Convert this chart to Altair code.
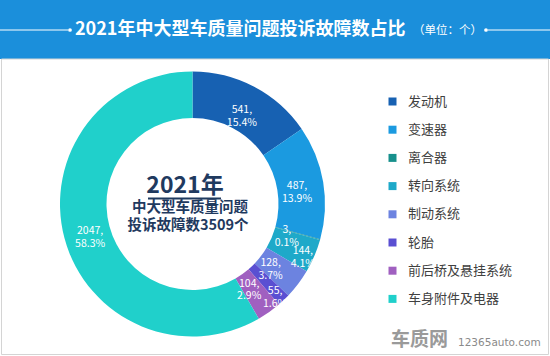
import altair as alt
import pandas as pd

categories = ["发动机", "变速器", "离合器", "转向系统", "制动系统", "轮胎", "前后桥及悬挂系统", "车身附件及电器"]
counts = [541, 487, 3, 144, 128, 55, 104, 2047]
percents = ["15.4%", "13.9%", "0.1%", "4.1%", "3.7%", "1.6%", "2.9%", "58.3%"]
colors = ["#1761b2", "#1b9ae0", "#17908c", "#1ea9c9", "#6c83e0", "#5a4fd2", "#a060c0", "#20d0cb"]
title_main = "2021年中大型车质量问题投诉故障数占比"
title_unit = "（单位：个）"
center_year = "2021年"
center_line2 = "中大型车质量问题"
center_line3 = "投诉故障数3509个"
watermark_cn = "车质网"
watermark_en = "12365auto.com"

df = pd.DataFrame({"cat": categories, "value": counts, "pct": percents, "idx": list(range(len(categories)))})
df["label"] = df["value"].astype(str) + ",\n" + df["pct"]

W, H = 550, 356
CX, CY = 192.5, 204
FONT = "Noto Sans CJK SC"
HEAD = "#1b8fdb"
one = pd.DataFrame({"k": [0]})
base1 = alt.Chart(one)

header = base1.mark_rect(color=HEAD).encode(
    x=alt.value(0), x2=alt.value(W), y=alt.value(0), y2=alt.value(59))
border = base1.mark_rect(filled=False, stroke="#d4d4d4", strokeWidth=1).encode(
    x=alt.value(1.5), x2=alt.value(548.5), y=alt.value(59), y2=alt.value(354.5))

line_l = base1.mark_rule(color="white", strokeWidth=1).encode(
    x=alt.value(0), x2=alt.value(68), y=alt.value(30))
line_r = base1.mark_rule(color="white", strokeWidth=1).encode(
    x=alt.value(488), x2=alt.value(W), y=alt.value(30))
dot_l = base1.mark_circle(color="white", size=14, opacity=1).encode(
    x=alt.value(70), y=alt.value(30))
dot_r = base1.mark_circle(color="white", size=14, opacity=1).encode(
    x=alt.value(486), y=alt.value(30))

t_main = base1.mark_text(text=title_main, font=FONT, fontSize=18, fontWeight="bold",
                         color="white", align="left", baseline="middle").encode(
    x=alt.value(75), y=alt.value(30))
t_unit = base1.mark_text(text=title_unit, font=FONT, fontSize=11.5,
                         color="white", align="left", baseline="middle").encode(
    x=alt.value(413), y=alt.value(31))

arcs = alt.Chart(df).mark_arc(innerRadius=86, outerRadius=132.5).encode(
    theta=alt.Theta("value:Q", stack=True),
    color=alt.Color("cat:N", scale=alt.Scale(domain=categories, range=colors),
                    sort=categories, legend=alt.Legend(title=None)),
    order=alt.Order("idx:Q"),
    x=alt.value(CX), y=alt.value(CY))

labels = alt.Chart(df).transform_window(
    cum="sum(value)", sort=[alt.SortField("idx")], frame=[None, 0]
).transform_calculate(
    mid="datum.cum - datum.value / 2",
    r="datum.value < 200 ? (datum.idx % 2 == 0 ? 98 : 120) : 106"
).mark_text(color="white", fontSize=10.5, font=FONT, lineBreak="\n", lineHeight=12.5).encode(
    theta=alt.Theta("mid:Q", stack=None),
    radius=alt.Radius("r:Q", scale=None),
    text="label:N",
    x=alt.value(CX), y=alt.value(CY))

c_year = base1.mark_text(text=center_year, font=FONT, fontSize=23, fontWeight="bold",
                         color="#1f3a5f", align="center", baseline="alphabetic").encode(
    x=alt.value(185), y=alt.value(193))
c_ul = base1.mark_rule(color="#1f3a5f", strokeWidth=2).encode(
    x=alt.value(148), x2=alt.value(221), y=alt.value(198.5))
c_l2 = base1.mark_text(text=center_line2, font=FONT, fontSize=14.5, fontWeight="bold",
                       color="#1f3a5f", align="center", baseline="middle").encode(
    x=alt.value(190), y=alt.value(208))
c_l3 = base1.mark_text(text=center_line3, font=FONT, fontSize=14.5, fontWeight="bold",
                       color="#1f3a5f", align="center", baseline="middle").encode(
    x=alt.value(188), y=alt.value(226))

wm1 = base1.mark_text(text=watermark_cn, font=FONT, fontSize=19, fontWeight="bold",
                      color="#9a9a9a", align="left", baseline="middle").encode(
    x=alt.value(391), y=alt.value(340))
wm2 = base1.mark_text(text=watermark_en, font="DejaVu Sans", fontSize=10.5,
                      color="#8a8a8a", align="left", baseline="middle").encode(
    x=alt.value(458), y=alt.value(343))

chart = alt.layer(
    header, border, line_l, line_r, dot_l, dot_r, t_main, t_unit,
    arcs, labels, c_year, c_ul, c_l2, c_l3, wm1, wm2
).properties(
    width=W, height=H, padding=0, background="white",
    autosize=alt.AutoSizeParams(type="none")
).configure_view(stroke=None).configure_legend(
    orient="none", legendX=386, legendY=95, symbolType="square", symbolSize=64,
    symbolStrokeWidth=0, labelFont=FONT, labelFontSize=13, labelColor="#404040",
    rowPadding=14.2, labelOffset=9, padding=0
)

chart.save("out.html", embed_options={"renderer": "svg", "actions": False})
